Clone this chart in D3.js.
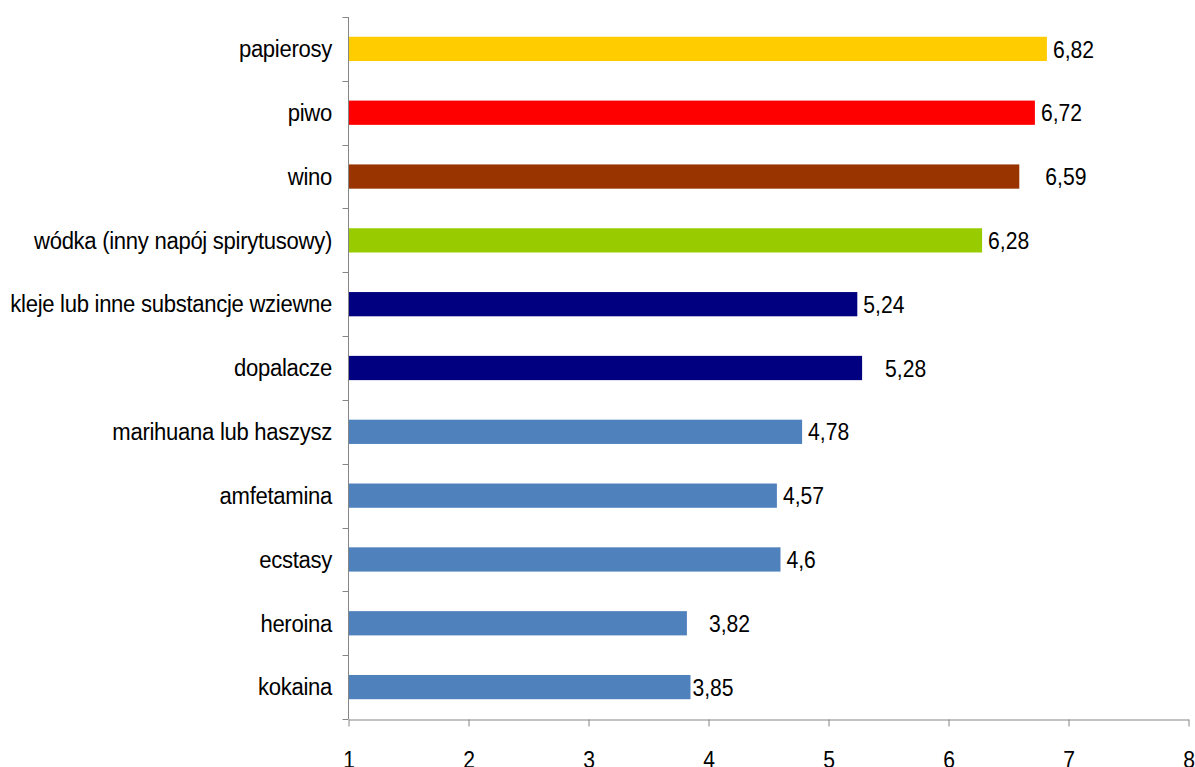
<!DOCTYPE html>
<html>
<head>
<meta charset="utf-8">
<script src="https://cdn.jsdelivr.net/npm/d3@7"></script>
<style>
  html, body { margin: 0; padding: 0; background: #ffffff; }
  svg { display: block; }
  text { font-family: "Liberation Sans", Arial, sans-serif; fill: #000; }
</style>
</head>
<body>
<svg id="chart" width="1195" height="767"></svg>
<script>
// ---- data ----
const categories = [
  "papierosy",
  "piwo",
  "wino",
  "wódka (inny napój spirytusowy)",
  "kleje lub inne substancje wziewne",
  "dopalacze",
  "marihuana lub haszysz",
  "amfetamina",
  "ecstasy",
  "heroina",
  "kokaina"
];
const values = [6.82, 6.72, 6.59, 6.28, 5.24, 5.28, 4.78, 4.57, 4.6, 3.82, 3.85];
const valueLabels = ["6,82", "6,72", "6,59", "6,28", "5,24", "5,28", "4,78", "4,57", "4,6", "3,82", "3,85"];
const xTicks = [1, 2, 3, 4, 5, 6, 7, 8];

// ---- styling (not data) ----
const barColors = ["#FFCC00", "#FF0000", "#993300", "#99CC00", "#000080", "#000080",
                   "#4F81BD", "#4F81BD", "#4F81BD", "#4F81BD", "#4F81BD"];
const labelGap = { "wino": 26, "dopalacze": 23, "heroina": 22, "kokaina": 2 };
const defaultGap = 6;
const catSize = 23, catScale = 0.96;
const valSize = 24, valScale = 0.88;

const svg = d3.select("#chart");
const axisColor = "#868686";

const x = d3.scaleLinear().domain([1, 8]).range([348.5, 1188.5]);
const y = d3.scaleBand().domain(categories).range([17, 719]).paddingInner(0.62).paddingOuter(0.31);
const yEdges = d3.scaleBand().domain(categories).range([17, 719]).padding(0);

const rows = categories.map((c, i) => ({ cat: c, value: values[i], label: valueLabels[i], color: barColors[i] }));

// bars
svg.append("g").selectAll("rect").data(rows).join("rect")
  .attr("x", x(1))
  .attr("y", d => y(d.cat))
  .attr("width", d => x(d.value) - x(1))
  .attr("height", y.bandwidth())
  .attr("fill", d => d.color);

// value labels
svg.append("g").selectAll("text").data(rows).join("text")
  .attr("transform", d => `translate(${x(d.value) + (labelGap[d.cat] !== undefined ? labelGap[d.cat] : defaultGap)},${y(d.cat) + y.bandwidth() / 2}) scale(${valScale},1)`)
  .attr("dy", "0.36em")
  .style("font-size", valSize + "px")
  .text(d => d.label);

// category labels
svg.append("g").selectAll("text").data(rows).join("text")
  .attr("transform", d => `translate(332,${y(d.cat) + y.bandwidth() / 2}) scale(${catScale},1)`)
  .attr("dy", "0.36em")
  .attr("text-anchor", "end")
  .style("font-size", catSize + "px")
  .style("letter-spacing", "-0.3px")
  .text(d => d.cat);

// left axis: line + ticks at band boundaries
const leftAxis = svg.append("g");
leftAxis.append("line")
  .attr("x1", x(1)).attr("x2", x(1))
  .attr("y1", 17).attr("y2", 719)
  .attr("stroke", axisColor).attr("stroke-width", 1);
const edges = categories.map(c => yEdges(c)).concat([yEdges.range()[1]]);
leftAxis.selectAll("line.t").data(edges).join("line")
  .attr("class", "t")
  .attr("x1", x(1) - 6).attr("x2", x(1))
  .attr("y1", d => Math.round(d) + 0.5).attr("y2", d => Math.round(d) + 0.5)
  .attr("stroke", axisColor).attr("stroke-width", 1);

// bottom axis
const xAxis = d3.axisBottom(x).tickValues(xTicks).tickSize(7).tickSizeOuter(0).tickFormat(d3.format("d"));
const gx = svg.append("g").attr("transform", "translate(0,719.5)").call(xAxis);
gx.select(".domain").attr("stroke", axisColor);
gx.selectAll(".tick line").attr("stroke", axisColor);
gx.selectAll(".tick text")
  .attr("y", null)
  .attr("dy", null)
  .attr("transform", `translate(0,48) scale(${valScale},1)`)
  .attr("fill", "#000")
  .style("font-family", "'Liberation Sans', Arial, sans-serif")
  .style("font-size", valSize + "px");
</script>
</body>
</html>
